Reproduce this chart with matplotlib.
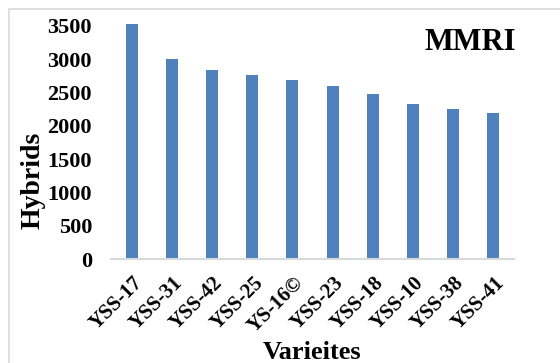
import matplotlib.pyplot as plt
import matplotlib.transforms as mtransforms
from matplotlib.patches import Rectangle

# datos
variedades = ["YSS-17", "YSS-31", "YSS-42", "YSS-25", "YS-16©",
              "YSS-23", "YSS-18", "YSS-10", "YSS-38", "YSS-41"]
hibridos = [3530, 3000, 2840, 2760, 2680, 2600, 2475, 2320, 2250, 2185]
ticks_y = [0, 500, 1000, 1500, 2000, 2500, 3000, 3500]

plt.rcParams['font.family'] = ['Liberation Serif', 'DejaVu Serif']
plt.rcParams['font.weight'] = 'bold'

fig = plt.figure(figsize=(5.6, 3.63), dpi=100)
ax = fig.add_axes([0.199, 0.2857, 0.718, 0.671])

x = range(len(variedades))
ax.bar(x, hibridos, width=0.3, color='#4F81BD')
ax.set_xlim(-0.5, len(variedades) - 0.5)
ax.set_ylim(0, 3650)
ax.set_yticks(ticks_y)
ax.set_yticklabels([str(t) for t in ticks_y], fontsize=16, fontweight='bold')
ax.set_xticks(list(x))
ax.set_xticklabels(variedades, fontsize=15, fontweight='bold',
                   rotation=45, ha='right', va='center', rotation_mode='anchor')
ax.tick_params(axis='both', length=0)
ax.tick_params(axis='x', pad=15)
ax.tick_params(axis='y', pad=14)

# mover un poco las etiquetas del eje x a la derecha
desplazar = mtransforms.ScaledTranslation(0.08, 0, fig.dpi_scale_trans)
for etiqueta in ax.get_xticklabels():
    etiqueta.set_transform(etiqueta.get_transform() + desplazar)

for lado in ['top', 'right', 'left']:
    ax.spines[lado].set_visible(False)
ax.spines['bottom'].set_color('#D9D9D9')
ax.spines['bottom'].set_linewidth(1.5)

ax.set_ylabel("Hybrids", fontsize=20, fontweight='bold')
ax.yaxis.set_label_coords(-0.165, 0.325)
fig.text(0.557, 0.028, "Varieites", fontsize=19, fontweight='bold', ha='center', va='center')
fig.text(516 / 560, 1 - 43 / 363, "MMRI", fontsize=22,
         fontweight='bold', ha='right', va='center')

# borde del area del grafico
fig.patches.append(Rectangle((9 / 560, -0.1), 1.1, 1.1 - 9 / 363,
                             transform=fig.transFigure, fill=False,
                             edgecolor='#D9D9D9', linewidth=1.2))

fig.savefig("out.png", dpi=100)
